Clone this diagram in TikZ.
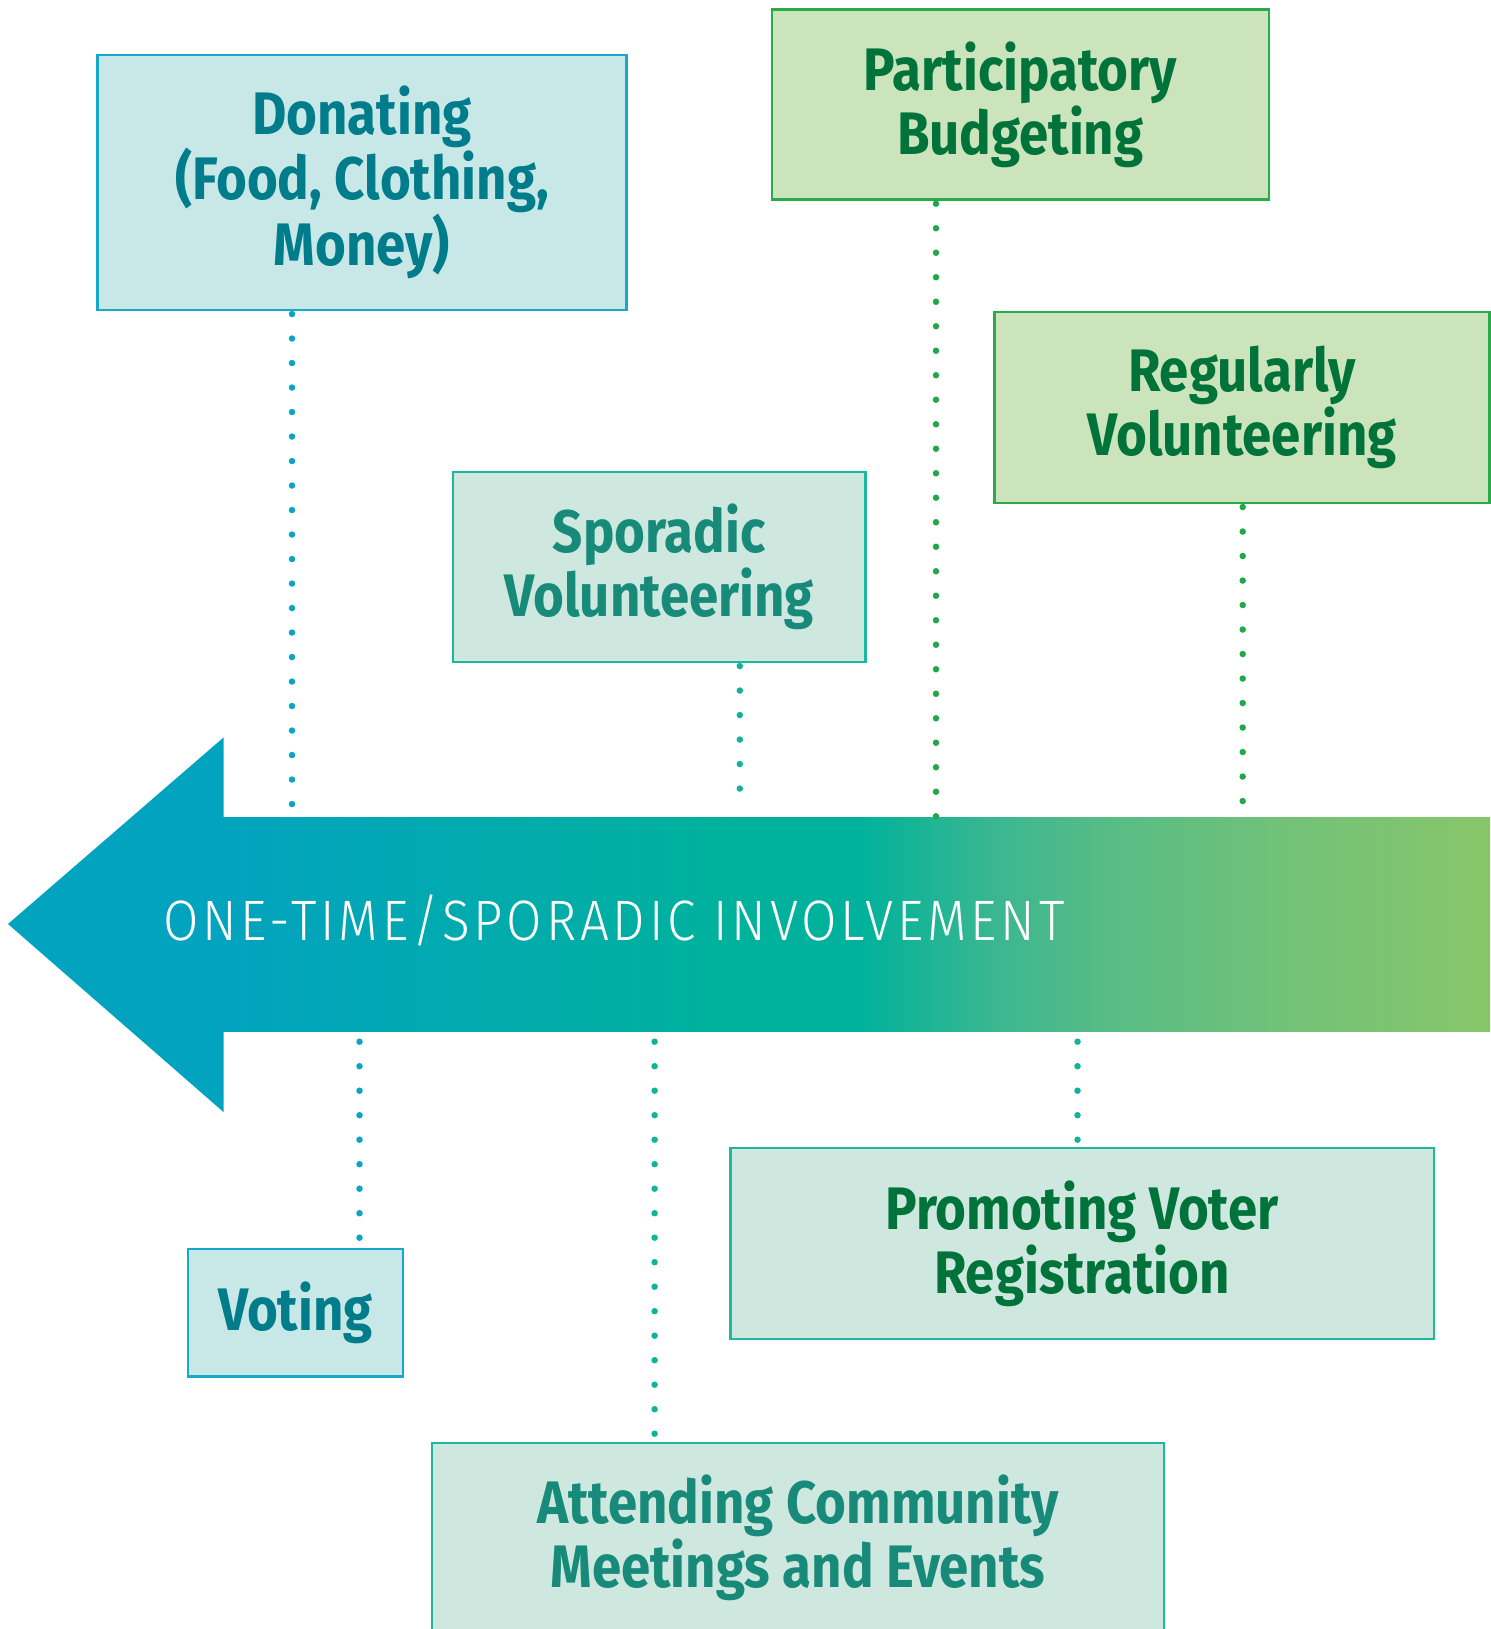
\documentclass[tikz,border=0pt]{standalone}
\usepackage{fontspec}
\setmainfont{Fira Sans}[FakeStretch=0.88]
\newfontfamily\boldcond{Fira Sans}[FakeStretch=0.88,UprightFont=* Bold]
\newfontfamily\lightfont{Fira Sans Light}[FakeStretch=0.9,LetterSpace=6.6]
\definecolor{cyanfill}{HTML}{C8E8E8}
\definecolor{cyanline}{HTML}{17A9C9}
\definecolor{cyantext}{HTML}{007C8A}
\definecolor{cyandot}{HTML}{0AA5C5}
\definecolor{greenfill}{HTML}{CCE4BC}
\definecolor{greenline}{HTML}{2AAA4A}
\definecolor{greentext}{HTML}{00733A}
\definecolor{greendot}{HTML}{22A84A}
\definecolor{tealfill}{HTML}{CEE8DF}
\definecolor{tealline}{HTML}{1DB8A2}
\definecolor{tealtext}{HTML}{178A7A}
\definecolor{tealdot}{HTML}{12B39B}
\definecolor{arrowcyan}{HTML}{02A3BF}
\definecolor{arrowteal}{HTML}{00B29B}
\definecolor{arrowmintA}{HTML}{3DB790}
\definecolor{arrowmintB}{HTML}{56BC86}
\definecolor{arrowmintC}{HTML}{74C277}
\definecolor{arrowgreen}{HTML}{88C66A}
\pgfdeclarehorizontalshading{shaftshade}{100bp}{color(0bp)=(arrowcyan); color(25bp)=(arrowcyan); color(45.8bp)=(arrowteal); color(50.2bp)=(arrowteal); color(55.7bp)=(arrowmintA); color(59.6bp)=(arrowmintB); color(67.5bp)=(arrowmintC); color(75bp)=(arrowgreen); color(100bp)=(arrowgreen)}
\tikzset{
  actbox/.style={draw, line width=2.5pt, align=center, inner sep=0pt,
    font=\boldcond\fontsize{60}{64}\selectfont},
  cyanbox/.style={actbox, draw=cyanline, fill=cyanfill, text=cyantext},
  greenbox/.style={actbox, draw=greenline, fill=greenfill, text=greentext},
  tealbox/.style={actbox, draw=tealline, fill=tealfill, text=tealtext},
  dotline/.style={line width=6.5pt, line cap=round, dash pattern=on 0pt off 24.5pt},
}
\begin{document}
\begin{tikzpicture}[x=1pt,y=-1pt]
\useasboundingbox (0,0) rectangle (1490,1629);
% arrow
\fill[arrowcyan] (8,924) -- (223.5,737.5) -- (223.5,1112) -- cycle;
\shade[shading=shaftshade] (222,817.5) rectangle (1490,1031);
\node[anchor=base west, text=white, font=\lightfont\fontsize{57}{60}\selectfont, inner sep=0pt] (lbl) at (163,940) {ONE-TIME/SPORADIC INVOLVEMENT};
% boxes
\node[cyanbox, minimum width=529pt, minimum height=255pt] (don) at (362,182.3) {Donating\\(Food, Clothing,\\Money)};
\node[greenbox, minimum width=497pt, minimum height=190pt] (part) at (1020.3,104.5) {Participatory\\Budgeting};
\node[greenbox, minimum width=495pt, minimum height=191pt] (reg) at (1242,407.3) {Regularly\\Volunteering};
\node[tealbox, minimum width=412.5pt, minimum height=190pt] (spor) at (659.3,566.8) {Sporadic\\Volunteering};
\node[tealbox, text=greentext, minimum width=703.5pt, minimum height=191pt] (prom) at (1082,1243.5) {Promoting Voter\\Registration};
\node[cyanbox, minimum width=215pt, minimum height=127.7pt] (vot) at (295.5,1312.8) {Voting};
\node[draw=tealline, fill=tealfill, line width=2.5pt, minimum width=731.7pt, minimum height=250pt, inner sep=0pt] (att) at (797.9,1568) {};
\node[font=\boldcond\fontsize{60}{64}\selectfont, text=tealtext, align=center, inner sep=0pt, anchor=base] (attlbl) at (797.9,1587) {Attending Community\\Meetings and Events};
% dotted connectors
\coordinate (d1) at (292,817.5);
\coordinate (d2) at (739.8,812);
\coordinate (d3) at (936,817.5);
\coordinate (d4) at (1242.7,817.5);
\coordinate (u1) at (359.5,1041.7);
\coordinate (u2) at (654.6,1041.7);
\coordinate (u3) at (1077.5,1041.7);
\draw[dotline, cyandot] (don.south -| d1) ++(0,3) -- (d1);
\draw[dotline, tealdot] (spor.south -| d2) ++(0,3) -- (d2);
\draw[dotline, greendot] (part.south -| d3) ++(0,3) -- (d3);
\draw[dotline, greendot] (reg.south -| d4) ++(0,3) -- (d4);
\draw[dotline, cyandot] (u1) -- (vot.north -| u1);
\draw[dotline, tealdot] (u2) -- (att.north -| u2);
\draw[dotline, tealdot] (u3) -- (prom.north -| u3);
\end{tikzpicture}
\end{document}
